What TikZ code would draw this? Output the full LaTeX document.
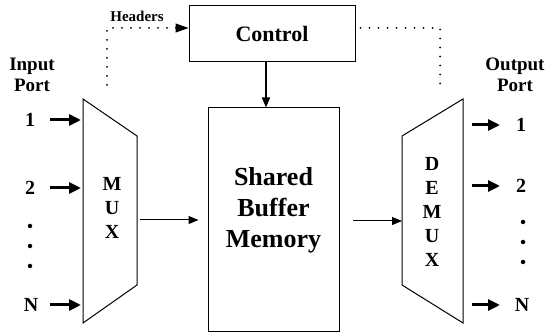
\documentclass[tikz,border=0pt]{standalone}
\usepackage{fontspec}
\setmainfont{Liberation Serif}
\usetikzlibrary{arrows.meta}
\begin{document}
\begin{tikzpicture}[x=1pt,y=-1pt,
  box/.style={draw, line width=1pt},
  txt/.style={font=\bfseries\fontsize{20}{24}\selectfont, inner sep=0pt},
  bigarr/.style={-{Triangle[length=12pt,width=11pt]}, line width=3pt},
  thinarr/.style={-{Triangle[length=10pt,width=8pt]}, line width=1pt},
  dotline/.style={line width=2pt, dash pattern=on 0pt off 9pt, line cap=round},
  bullet/.style={circle, fill, inner sep=0pt, minimum size=4.5pt}
]
\useasboundingbox (0,0) rectangle (558,334);
% Control
\node[box, minimum width=166pt, minimum height=56pt, inner sep=0pt,
  font=\bfseries\fontsize{22}{26}\selectfont] (ctrl) at (272,34) {Control};
% Buffer
\node[box, minimum width=131pt, minimum height=224pt, inner sep=0pt] (buf) at (273.5,220) {};
\node[align=center, inner sep=0pt, font=\bfseries\fontsize{26}{31}\selectfont] (buftxt) at (273.5,210) {Shared\\Buffer\\Memory};
% MUX
\coordinate (mux1) at (83,99);
\coordinate (mux2) at (137,136);
\coordinate (mux3) at (137,285);
\coordinate (mux4) at (83,323);
\draw[box] (mux1) -- (mux2) -- (mux3) -- (mux4) -- cycle;
\node[txt, align=center, font=\bfseries\fontsize{20}{24}\selectfont] (muxlbl) at (112,208) {M\\U\\X};
% DEMUX
\coordinate (dem1) at (463,99);
\coordinate (dem2) at (402,136);
\coordinate (dem3) at (402,285);
\coordinate (dem4) at (463,323);
\draw[box] (dem1) -- (dem2) -- (dem3) -- (dem4) -- cycle;
\node[txt, align=center, font=\bfseries\fontsize{20}{24}\selectfont] (demlbl) at (432,212) {D\\E\\M\\U\\X};
% arrows mux -> buffer -> demux
\coordinate (muxout) at (140,220);
\draw[thinarr, shorten >=9pt] (muxout) -- (muxout -| buf.west);
\coordinate (bufout) at (353,221);
\draw[thinarr] (bufout) -- (bufout -| dem2);
% control -> buffer
\draw[thinarr, line width=1.5pt] (ctrl.south -| 266,0) -- (buf.north -| 266,0);
% Headers
\coordinate (hd) at (107,85);
\coordinate (hc) at (107,28);
\draw[dotline] (hd) -- (hc) -- (hc -| ctrl.west);
\draw[-{Triangle[length=13pt,width=9pt]}, line width=1pt] (175,28) -- (hc -| ctrl.west);
\node[inner sep=0pt, font=\bfseries\fontsize{15}{18}\selectfont] (hdr) at (137,16) {Headers};
% right dotted
\coordinate (rc) at (440,28);
\coordinate (rd) at (440,85);
\draw[dotline] (rc -| ctrl.east) ++(5,0) -- (rc) -- (rd);
% port labels
\node[txt, align=center, font=\bfseries\fontsize{19}{21}\selectfont] (inport) at (32,75) {Input\\Port};
\node[txt, align=center, font=\bfseries\fontsize{19}{21}\selectfont] (outport) at (515,75) {Output\\Port};
% inputs
\node[txt] (i1) at (30,120) {1};
\node[txt] (i2) at (30,188) {2};
\node[txt] (iN) at (31,305) {N};
\draw[bigarr] (50,120) -- (81,120);
\draw[bigarr] (50,188) -- (81,188);
\draw[bigarr] (50,305) -- (81,305);
\node[bullet] (id1) at (30,226) {};
\node[bullet] (id2) at (30,246) {};
\node[bullet] (id3) at (30,266) {};
% outputs
\node[txt] (o1) at (521,125) {1};
\node[txt] (o2) at (521,186) {2};
\node[txt] (oN) at (522,305) {N};
\draw[bigarr] (472,125) -- (500,125);
\draw[bigarr] (472,186) -- (500,186);
\draw[bigarr] (472,305) -- (500,305);
\node[bullet] (od1) at (523,222) {};
\node[bullet] (od2) at (523,242) {};
\node[bullet] (od3) at (523,262) {};
\end{tikzpicture}
\end{document}
